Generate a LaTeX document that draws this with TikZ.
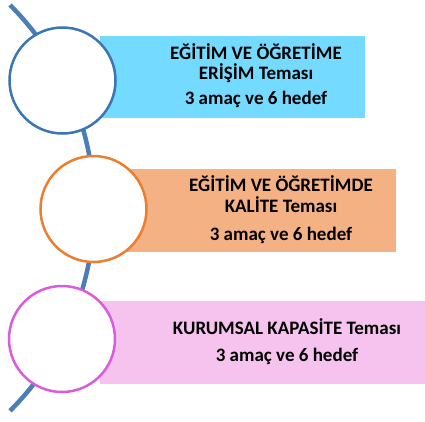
\documentclass[tikz,border=0pt]{standalone}
\usepackage{fontspec}
\setmainfont{Carlito}
\definecolor{arcblue}{HTML}{4A7EB5}
\definecolor{c1}{HTML}{3A75B5}
\definecolor{c2}{HTML}{ED7D31}
\definecolor{c3}{HTML}{DA5CDA}
\definecolor{f1}{HTML}{75DAFF}
\definecolor{f2}{HTML}{F4B183}
\definecolor{f3}{HTML}{F6C3EE}
\begin{document}
\begin{tikzpicture}[x=1pt,y=-1pt,
  ring/.style={circle,draw,line width=2.5pt,fill=white,minimum size=106pt,inner sep=0pt},
  band/.style={rectangle,inner sep=0pt,anchor=north west},
  label/.style={anchor=base,inner sep=0pt,font=\fontsize{19}{22}\selectfont\bfseries,text=black}]
\useasboundingbox (0,0) rectangle (425,421);
\coordinate (arcstart) at (10,5);
\draw[arcblue,line width=4.5pt] (arcstart) arc[start angle=-45,end angle=45,radius=287];
% bands
\node[band,fill=f1,minimum width=265pt,minimum height=82pt] (b1) at (100,36) {};
\node[band,fill=f2,minimum width=300pt,minimum height=83pt] (b2) at (96,169) {};
\node[band,fill=f3,minimum width=325pt,minimum height=83pt] (b3) at (100,301) {};
% rings
\node[ring,draw=c1] (r1) at (62.5,80.5) {};
\node[ring,draw=c2] (r2) at (93.5,209) {};
\node[ring,draw=c3] (r3) at (62,339) {};
% labels
\node[label] (t1a) at (256,59) {EĞİTİM VE ÖĞRETİME};
\node[label] (t1b) at (256,79) {ERİŞİM Teması};
\node[label] (t1c) at (256,104) {3 amaç ve 6 hedef};
\node[label] (t2a) at (281,191.5) {EĞİTİM VE ÖĞRETİMDE};
\node[label] (t2b) at (281,212.5) {KALİTE Teması};
\node[label] (t2c) at (281,240) {3 amaç ve 6 hedef};
\node[label] (t3a) at (287,334) {KURUMSAL KAPASİTE Teması};
\node[label] (t3b) at (287,361.5) {3 amaç ve 6 hedef};
\end{tikzpicture}
\end{document}
